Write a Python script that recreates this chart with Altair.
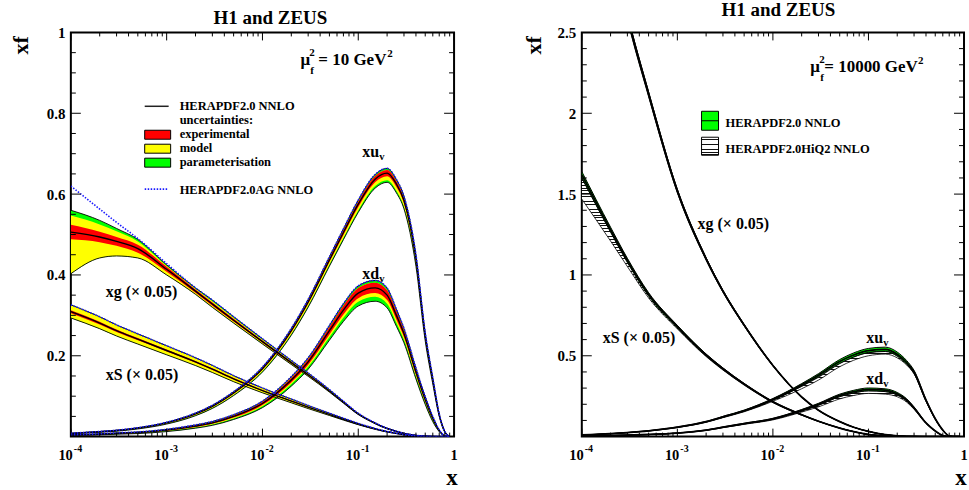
import altair as alt
import pandas as pd

FONT = "Liberation Serif"
W_L, W_R, H = 384, 383, 405

# ---------------- data ----------------
X = [1e-4, 2e-4, 3e-4, 5e-4, 1e-3, 2e-3, 3e-3, 5e-3, 0.01, 0.02, 0.03, 0.05,
     0.07, 0.1, 0.15, 0.2, 0.25, 0.3, 0.4, 0.5, 0.6, 0.7, 0.8, 0.9]

# mu_f^2 = 10 GeV^2 (left panel), central HERAPDF2.0 NNLO
XG_10 = [0.506, 0.494, 0.483, 0.465, 0.414, 0.360, 0.328, 0.288, 0.235, 0.183, 0.153, 0.113,
         0.085, 0.056, 0.033, 0.020, 0.013, 0.008, 0.003, 0.001, 0.0003, 0.0, 0.0, 0.0]
XS_10 = [0.309, 0.281, 0.262, 0.241, 0.213, 0.185, 0.167, 0.143, 0.114, 0.088, 0.073, 0.055,
         0.043, 0.031, 0.019, 0.012, 0.008, 0.005, 0.0015, 0.0005, 0.0, 0.0, 0.0, 0.0]
XUV_10 = [0.008, 0.012, 0.015, 0.021, 0.034, 0.056, 0.075, 0.108, 0.168, 0.262, 0.333, 0.437,
          0.505, 0.575, 0.637, 0.652, 0.625, 0.584, 0.440, 0.250, 0.140, 0.054, 0.012, 0.0]
XDV_10 = [0.004, 0.006, 0.008, 0.010, 0.016, 0.026, 0.034, 0.050, 0.082, 0.140, 0.185, 0.262,
          0.313, 0.355, 0.368, 0.350, 0.300, 0.255, 0.160, 0.092, 0.045, 0.015, 0.002, 0.0]

# xg band edges at low x (first six X points)
XG10_GRN_HI = [0.560, 0.535, 0.515, 0.488, 0.425, 0.368]
XG10_YEL_HI = [0.547, 0.525, 0.508, 0.483, 0.422, 0.366]
XG10_RED_HI = [0.524, 0.507, 0.494, 0.475, 0.420, 0.364]
XG10_RED_LO = [0.488, 0.481, 0.472, 0.455, 0.408, 0.356]
XG10_LO = [0.403, 0.442, 0.447, 0.442, 0.400, 0.352]
# HERAPDF2.0AG NNLO gluon where it departs from the band
XG10_AG = [0.620, 0.563, 0.530, 0.490, 0.428]

# relative uncertainties: exp, model lo, model hi, param lo, param hi
UNC_10 = {"xg": (0.012, 0.022, 0.022, 0.025, 0.030),
          "xS": (0.012, 0.050, 0.055, 0.050, 0.055),
          "xuv": (0.012, 0.027, 0.012, 0.035, 0.018),
          "xdv": (0.035, 0.060, 0.035, 0.090, 0.050)}
VAL_SCALE = [3.0, 3.0, 3.0, 2.8, 2.5, 2.2, 2.0, 1.7, 1.4, 1.2, 1.1, 1.0,
             1.0, 1.0, 1.0, 1.0, 1.0, 1.0, 1.2, 1.5, 2.0, 2.0, 2.0, 2.0]

# mu_f^2 = 10000 GeV^2 (right panel)
XG_1E4 = [3.90, 3.06, 2.60, 2.12, 1.52, 1.10, 0.90, 0.69, 0.44, 0.245, 0.163, 0.093,
          0.058, 0.032, 0.012, 0.005, 0.002, 0.001, 0.0, 0.0, 0.0, 0.0, 0.0, 0.0]
XS_1E4 = [1.62, 1.28, 1.09, 0.88, 0.68, 0.505, 0.42, 0.325, 0.215, 0.135, 0.095, 0.053,
          0.031, 0.013, 0.004, 0.001, 0.0, 0.0, 0.0, 0.0, 0.0, 0.0, 0.0, 0.0]
XUV_1E4 = [0.010, 0.018, 0.025, 0.036, 0.058, 0.092, 0.122, 0.160, 0.230, 0.320, 0.380, 0.465,
           0.505, 0.532, 0.540, 0.510, 0.460, 0.400, 0.225, 0.110, 0.040, 0.004, 0.0, 0.0]
XDV_1E4 = [0.004, 0.007, 0.009, 0.013, 0.022, 0.040, 0.058, 0.080, 0.110, 0.163, 0.200, 0.255,
           0.278, 0.292, 0.287, 0.265, 0.228, 0.178, 0.085, 0.035, 0.006, 0.0, 0.0, 0.0]

GRN_1E4 = {"xg": 0.006, "xS": 0.012, "xuv": 0.025, "xdv": 0.030}
# HERAPDF2.0HiQ2 band, relative offsets from the HERAPDF2.0 central value
HIQ_LO = {
    "xg": [-0.008] * 24,
    "xS": [-0.093, -0.055, -0.035, -0.025, -0.020, -0.020, -0.020, -0.020, -0.020, -0.020, -0.020, -0.020,
           -0.020, -0.020, -0.020, -0.020, -0.020, -0.020, -0.020, -0.020, -0.020, -0.020, -0.020, -0.020],
    "xuv": [-0.040, -0.040, -0.040, -0.040, -0.040, -0.040, -0.040, -0.040, -0.050, -0.075, -0.080, -0.070,
            -0.065, -0.060, -0.055, -0.045, -0.035, -0.030, -0.030, -0.030, -0.030, -0.030, -0.030, -0.030],
    "xdv": [-0.050, -0.050, -0.050, -0.050, -0.050, -0.050, -0.050, -0.050, -0.060, -0.070, -0.080, -0.085,
            -0.085, -0.085, -0.085, -0.070, -0.060, -0.050, -0.050, -0.050, -0.050, -0.050, -0.050, -0.050],
}
HIQ_HI = {
    "xg": [0.006] * 24,
    "xS": [-0.012, -0.008, -0.004, 0.000, 0.005, 0.008, 0.008, 0.008, 0.008, 0.008, 0.008, 0.008,
           0.008, 0.008, 0.008, 0.008, 0.008, 0.008, 0.008, 0.008, 0.008, 0.008, 0.008, 0.008],
    "xuv": [0.000, 0.000, 0.000, 0.000, 0.000, 0.000, 0.000, 0.000, -0.010, -0.030, -0.035, -0.030,
            -0.025, -0.020, -0.020, -0.015, -0.010, -0.010, -0.010, -0.010, -0.010, -0.010, -0.010, -0.010],
    "xdv": [0.000, 0.000, 0.000, 0.000, 0.000, 0.000, 0.000, 0.000, -0.010, -0.030, -0.030, -0.030,
            -0.030, -0.030, -0.030, -0.030, -0.020, -0.020, -0.020, -0.020, -0.020, -0.020, -0.020, -0.020],
}

# ---------------- tables ----------------
rows = []
for pdf, vals in [("xg", XG_10), ("xS", XS_10), ("xuv", XUV_10), ("xdv", XDV_10)]:
    e, ml, mh, pl, ph = UNC_10[pdf]
    for i, (x, c) in enumerate(zip(X, vals)):
        s = VAL_SCALE[i] if pdf in ("xuv", "xdv") else 1.0
        if pdf == "xg" and i < 6:
            r_lo, r_hi = XG10_RED_LO[i], XG10_RED_HI[i]
            y_lo, y_hi = XG10_LO[i], XG10_YEL_HI[i]
            g_lo, g_hi = XG10_LO[i], XG10_GRN_HI[i]
        else:
            r_lo, r_hi = c * (1 - e * s), c * (1 + e * s)
            y_lo, y_hi = c * (1 - ml * s), c * (1 + mh * s)
            g_lo, g_hi = c * (1 - pl * s), c * (1 + ph * s)
        ag = XG10_AG[i] if (pdf == "xg" and i < 5) else g_hi
        rows.append(dict(pdf=pdf, x=x, c=c, r_lo=r_lo, r_hi=r_hi, y_lo=y_lo, y_hi=y_hi,
                         g_lo=g_lo, g_hi=g_hi, ag=ag))
dfL = pd.DataFrame(rows)

rows = []
for pdf, vals in [("xg", XG_1E4), ("xS", XS_1E4), ("xuv", XUV_1E4), ("xdv", XDV_1E4)]:
    g = GRN_1E4[pdf]
    for i, (x, c) in enumerate(zip(X, vals)):
        rows.append(dict(pdf=pdf, x=x, c=c, g_lo=c * (1 - g), g_hi=c * (1 + g),
                         h_lo=c * (1 + HIQ_LO[pdf][i]), h_hi=c * (1 + HIQ_HI[pdf][i])))
dfR = pd.DataFrame(rows)

ONE = pd.DataFrame({"k": [0]})
XMAJ = pd.DataFrame({"v": [1e-4, 1e-3, 1e-2, 1e-1, 1.0]})
XMIN = pd.DataFrame({"v": [m * 10.0 ** k for k in range(-4, 0) for m in range(2, 10)]})
XLAB = pd.DataFrame({"v": [1e-4, 1e-3, 1e-2, 1e-1], "e": ["-4", "-3", "-2", "-1"]})
XONE = pd.DataFrame({"v": [1.0]})


def stripes(n, frac=0.33, color="#111111"):
    stops = []
    for k in range(n):
        a, b, c = k / n, (k + 1 - frac) / n, (k + 1) / n
        stops += [{"offset": a, "color": "white"}, {"offset": b, "color": "white"},
                  {"offset": b, "color": color}, {"offset": c, "color": color}]
    return {"gradient": "linear", "x1": 0, "y1": 0, "x2": 0, "y2": 1, "stops": stops}


def txt(s, x, y, size, align="left", baseline="alphabetic", angle=0, color="black"):
    return alt.Chart(ONE).mark_text(text=s, font=FONT, fontSize=size, fontWeight="bold",
                                    align=align, baseline=baseline, angle=angle,
                                    color=color).encode(x=alt.value(x), y=alt.value(y))


def box(x1, x2, y1, y2, fill):
    return alt.Chart(ONE).mark_rect(fill=fill, stroke="black", strokeWidth=1).encode(
        x=alt.value(x1), x2=alt.value(x2), y=alt.value(y1), y2=alt.value(y2))


def seg(x1, x2, y, color="black", width=1.5, dash=None, opacity=1):
    kw = dict(color=color, strokeWidth=width, opacity=opacity)
    if dash:
        kw["strokeDash"] = dash
    return alt.Chart(ONE).mark_rule(**kw).encode(
        x=alt.value(x1), x2=alt.value(x2), y=alt.value(y))


def panel(width, ydom, yvals, ymaj, ymin):
    xs = alt.Scale(type="log", domain=[1e-4, 1.0], nice=False)
    ys = alt.Scale(domain=ydom, nice=False, zero=False)
    yax = alt.Axis(values=yvals, labelExpr="format(datum.value, '~g')", ticks=False,
                   domain=False, grid=False, title=None, labelFont=FONT, labelFontSize=15,
                   labelFontWeight="bold", labelColor="black", labelPadding=6)
    XE = alt.X("x:Q", scale=xs, axis=None)

    def area(df, lo, hi, fill):
        return alt.Chart(df).mark_area(interpolate="monotone", clip=True, fill=fill,
                                       opacity=1, strokeWidth=0).encode(
            x=XE, y=alt.Y(f"{lo}:Q", scale=ys, axis=yax), y2=alt.Y2(f"{hi}:Q"), detail="pdf:N")

    def line(df, field, color, width, dash=None):
        kw = dict(interpolate="monotone", clip=True, color=color, strokeWidth=width)
        if dash:
            kw["strokeDash"] = dash
        return alt.Chart(df).mark_line(**kw).encode(
            x=XE, y=alt.Y(f"{field}:Q", scale=ys, axis=yax), detail="pdf:N")

    ymj = pd.DataFrame({"v": ymaj})
    ymn = pd.DataFrame({"v": ymin})
    XT = alt.X("v:Q", scale=xs, axis=None)
    YT = alt.Y("v:Q", scale=ys, axis=yax)
    ticks = [
        alt.Chart(XMAJ).mark_rule(color="black", strokeWidth=1).encode(x=XT, y=alt.value(H), y2=alt.value(H - 8)),
        alt.Chart(XMAJ).mark_rule(color="black", strokeWidth=1).encode(x=XT, y=alt.value(0), y2=alt.value(8)),
        alt.Chart(XMIN).mark_rule(color="black", strokeWidth=1).encode(x=XT, y=alt.value(H), y2=alt.value(H - 4)),
        alt.Chart(XMIN).mark_rule(color="black", strokeWidth=1).encode(x=XT, y=alt.value(0), y2=alt.value(4)),
        alt.Chart(ymj).mark_rule(color="black", strokeWidth=1).encode(y=YT, x=alt.value(0), x2=alt.value(10)),
        alt.Chart(ymj).mark_rule(color="black", strokeWidth=1).encode(y=YT, x=alt.value(width), x2=alt.value(width - 10)),
        alt.Chart(ymn).mark_rule(color="black", strokeWidth=1).encode(y=YT, x=alt.value(0), x2=alt.value(5)),
        alt.Chart(ymn).mark_rule(color="black", strokeWidth=1).encode(y=YT, x=alt.value(width), x2=alt.value(width - 5)),
        alt.Chart(XLAB).mark_text(text="10", font=FONT, fontSize=14.5, fontWeight="bold", align="right",
                                  dx=2, color="black").encode(x=XT, y=alt.value(H + 19)),
        alt.Chart(XLAB).mark_text(font=FONT, fontSize=10, fontWeight="bold", align="left",
                                  dx=3, color="black").encode(x=XT, y=alt.value(H + 12), text="e:N"),
        alt.Chart(XONE).mark_text(text="1", font=FONT, fontSize=14.5, fontWeight="bold", align="center",
                                  color="black").encode(x=XT, y=alt.value(H + 19)),
    ]
    return area, line, ticks


# ---------------- left panel ----------------
areaL, lineL, ticksL = panel(W_L, [0, 1], [0.2, 0.4, 0.6, 0.8, 1.0], [0.2, 0.4, 0.6, 0.8],
                             [round(0.05 * i, 2) for i in range(1, 20) if i % 4])
RED, YEL, GRN, BLUE = "#ff0000", "#ffff00", "#00ff00", "#1a1aff"
LEG = 12.5
left_layers = [
    seg(-70, -69, -30, "white", 0.01, opacity=0),   # canvas anchor (top-left corner)
    areaL(dfL, "g_lo", "g_hi", GRN),
    areaL(dfL, "y_lo", "y_hi", YEL),
    areaL(dfL, "r_lo", "r_hi", RED),
    lineL(dfL, "g_lo", "black", 0.9),
    lineL(dfL, "g_hi", "black", 0.9),
    lineL(dfL, "c", "black", 1.4),
    lineL(dfL, "ag", BLUE, 1.6, [1.5, 1.5]),
] + ticksL + [
    txt("H1 and ZEUS", 200, -8, 19, align="center"),
    txt("xf", -50, 13, 22, align="center", baseline="middle", angle=270),
    txt("x", 382, 446, 23, align="center", baseline="middle"),
    txt("μ", 230, 33, 17),
    txt("2", 239, 24, 11),
    txt("f", 240, 42, 11),
    txt("= 10 GeV", 248, 33, 17),
    txt("2", 317, 25, 11),
    seg(74, 98, 74, "#222222", 1.5),
    txt("HERAPDF2.0 NNLO", 109, 77.5, LEG),
    txt("uncertainties:", 109, 91.5, LEG),
    box(74, 100, 98, 107, RED),
    txt("experimental", 109, 105.5, LEG),
    box(74, 100, 112, 121, YEL),
    txt("model", 109, 119.5, LEG),
    box(74, 100, 126, 135, GRN),
    txt("parameterisation", 109, 133.5, LEG),
    seg(74, 98, 157, BLUE, 1.6, [1.5, 1.5]),
    txt("HERAPDF2.0AG NNLO", 109, 161.5, LEG),
    txt("xu", 292, 125, 16),
    txt("v", 309, 128, 10.5),
    txt("xd", 292, 247, 16),
    txt("v", 309, 250, 10.5),
    txt("xg (× 0.05)", 35, 265, 16),
    txt("xS (× 0.05)", 35, 348, 16),
]
left = alt.layer(*left_layers).properties(width=W_L, height=H)

# ---------------- right panel ----------------
areaR, lineR, ticksR = panel(W_R, [0, 2.5], [0.5, 1.0, 1.5, 2.0, 2.5], [0.5, 1.0, 1.5, 2.0],
                             [round(0.1 * i, 1) for i in range(1, 25) if i % 5])
hatch_layers = []
for pdf in ["xS", "xuv", "xdv"]:
    sub = dfR[dfR.pdf == pdf]
    px = (sub.h_hi.max() - sub.h_lo.min()) / 2.5 * H
    hatch_layers.append(areaR(sub, "h_lo", "h_hi", stripes(max(3, int(round(px / 2.7))))))

right_layers = [
    seg(386, 387, 460, "white", 0.01, opacity=0),   # canvas anchor (bottom-right corner)
] + hatch_layers + [
    areaR(dfR, "g_lo", "g_hi", GRN),
    lineR(dfR, "h_lo", "black", 0.8),
    lineR(dfR, "h_hi", "black", 0.8),
    lineR(dfR, "g_lo", "black", 1.0),
    lineR(dfR, "g_hi", "black", 1.0),
    lineR(dfR, "c", "black", 1.8),
] + ticksR + [
    txt("H1 and ZEUS", 197, -16, 19, align="center"),
    txt("xf", -48, 13, 22, align="center", baseline="middle", angle=270),
    txt("x", 380, 446, 23, align="center", baseline="middle"),
    txt("μ", 229, 40, 17),
    txt("2", 238, 31, 11),
    txt("f", 239, 49, 11),
    txt("= 10000 GeV", 243, 40, 17),
    txt("2", 337, 32, 11),
    box(120, 137, 79, 98, GRN),
    seg(120, 137, 88.5, "black", 1),
    txt("HERAPDF2.0 NNLO", 144, 94.5, LEG),
    box(120, 137, 105, 123, stripes(7)),
    txt("HERAPDF2.0HiQ2 NNLO", 144, 120.5, LEG),
    txt("xg (× 0.05)", 116, 197, 16),
    txt("xS (× 0.05)", 21, 311, 16),
    txt("xu", 285, 311, 16),
    txt("v", 302, 314, 10.5),
    txt("xd", 285, 352, 16),
    txt("v", 302, 355, 10.5),
]
right = alt.layer(*right_layers).properties(width=W_R, height=H)

chart = alt.hconcat(left, right, spacing=128, bounds="flush").resolve_scale(
    x="independent", y="independent"
).properties(
    padding=0,
    background="white",
).configure_view(stroke="black", strokeWidth=2)

chart.save("out.html", embed_options={"renderer": "svg", "actions": False})
